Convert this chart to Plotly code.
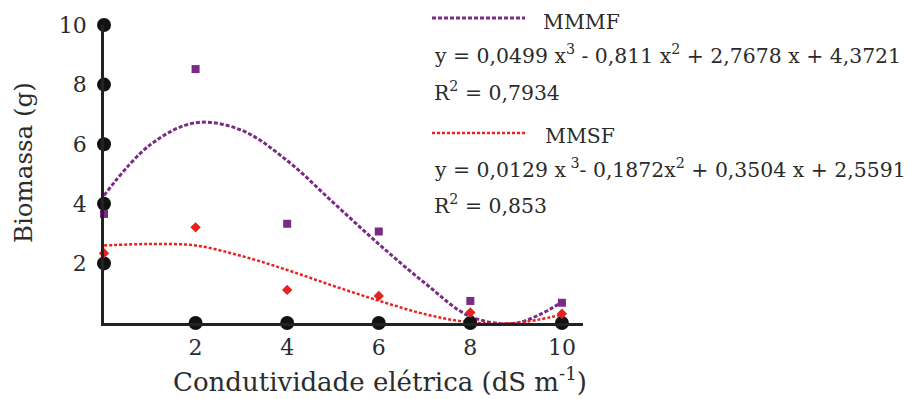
import plotly.graph_objects as go

# ---- data ----
ce = [0, 2, 4, 6, 8, 10]
mmmf = [3.66, 8.52, 3.33, 3.07, 0.74, 0.68]
mmsf = [2.34, 3.21, 1.11, 0.91, 0.35, 0.31]

# fitted curves (at integer x)
curve_x = [0, 1, 2, 3, 4, 5, 6, 7, 8, 9, 10]
mmmf_fit = [4.28, 5.97, 6.72, 6.47, 5.45, 4.05, 2.65, 1.35, 0.22, 0.0, 0.7]
mmsf_fit = [2.6, 2.65, 2.6, 2.25, 1.78, 1.25, 0.75, 0.3, 0.02, 0.0, 0.28]

# tick dots on the axes
tick_x = [0, 0, 0, 0, 0, 2, 4, 6, 8, 10]
tick_y = [2, 4, 6, 8, 10, 0, 0, 0, 0, 0]
y_ticks = [2, 4, 6, 8, 10]
x_ticks = [2, 4, 6, 8, 10]

eq_mmmf = "y = 0,0499 x<sup>3</sup> - 0,811 x<sup>2</sup> + 2,7678 x + 4,3721"
r2_mmmf = "R<sup>2</sup> = 0,7934"
eq_mmsf = "y = 0,0129 x<sup> 3</sup>- 0,1872x<sup>2</sup> + 0,3504 x + 2,5591"
r2_mmsf = "R<sup>2</sup> = 0,853"

PURPLE = "#7a2b85"
RED = "#e8221e"
FONT = "DejaVu Serif"
TXT = "#2b2b2b"

W, H = 910, 399
L, R_, T, B = 104, 583, 25, 323


def px(x):
    return (x - L) / (R_ - L)


def py(y):
    return (B - y) / (B - T)


fig = go.Figure()
fig.add_trace(go.Scatter(x=curve_x, y=mmmf_fit, mode="lines", line=dict(color=PURPLE, width=3, dash="4px,2px", shape="spline", smoothing=1.0), cliponaxis=False, showlegend=False))
fig.add_trace(go.Scatter(x=curve_x, y=mmsf_fit, mode="lines", line=dict(color=RED, width=2.5, dash="3px,2px", shape="spline", smoothing=1.0), cliponaxis=False, showlegend=False))
fig.add_trace(go.Scatter(x=tick_x, y=tick_y, mode="markers", marker=dict(color="#111", size=14), cliponaxis=False, showlegend=False))
fig.add_trace(go.Scatter(x=ce, y=mmmf, mode="markers", marker=dict(color=PURPLE, size=8, symbol="square"), cliponaxis=False, showlegend=False))
fig.add_trace(go.Scatter(x=ce, y=mmsf, mode="markers", marker=dict(color=RED, size=8, symbol="diamond"), cliponaxis=False, showlegend=False))

fig.update_xaxes(range=[0, 10.46], tickvals=x_ticks, ticktext=[str(v) for v in x_ticks], showline=True, linecolor="#222", linewidth=2.5,
                 showgrid=False, zeroline=False, ticks="", ticklabelstandoff=3, automargin=False,
                 tickfont=dict(family=FONT, size=22, color=TXT))
fig.update_yaxes(range=[0, 10], tickvals=y_ticks, ticktext=[str(v) for v in y_ticks], showline=True, linecolor="#222", linewidth=2.5,
                 showgrid=False, zeroline=False, ticks="", ticklabelstandoff=10, automargin=False,
                 tickfont=dict(family=FONT, size=22, color=TXT))

ann = []
ann.append(dict(x=px(380), y=py(380), xref="paper", yref="paper", text="Condutividade elétrica (dS m<sup>-1</sup>)", showarrow=False,
                font=dict(family=FONT, size=26, color=TXT), xanchor="center", yanchor="middle"))
ann.append(dict(x=px(23), y=py(163), xref="paper", yref="paper", text="Biomassa (g)", showarrow=False, textangle=-90,
                font=dict(family=FONT, size=24.5, color=TXT), xanchor="center", yanchor="middle"))
for txt, xx, yy in [("MMMF", 541, 22), (eq_mmmf, 432, 55), (r2_mmmf, 432, 92),
                    ("MMSF", 543, 136), (eq_mmsf, 432, 168), (r2_mmsf, 432, 204)]:
    ann.append(dict(x=px(xx), y=py(yy), xref="paper", yref="paper", text=txt, showarrow=False,
                    font=dict(family=FONT, size=20.4, color=TXT), xanchor="left", yanchor="middle"))

shapes = [
    dict(type="line", xref="paper", yref="paper", x0=px(432), x1=px(525), y0=py(18), y1=py(18), line=dict(color=PURPLE, width=3, dash="4px,2px")),
    dict(type="line", xref="paper", yref="paper", x0=px(432), x1=px(527), y0=py(133), y1=py(133), line=dict(color=RED, width=2.5, dash="3px,2px")),
]

fig.update_layout(width=W, height=H, margin=dict(l=L, r=W - R_, t=T, b=H - B, autoexpand=False), plot_bgcolor="white", paper_bgcolor="white",
                  annotations=ann, shapes=shapes, showlegend=False)
fig.write_html("out.html", config={"displayModeBar": False},
               post_script="document.body.style.margin='0';document.body.style.padding='0';")
